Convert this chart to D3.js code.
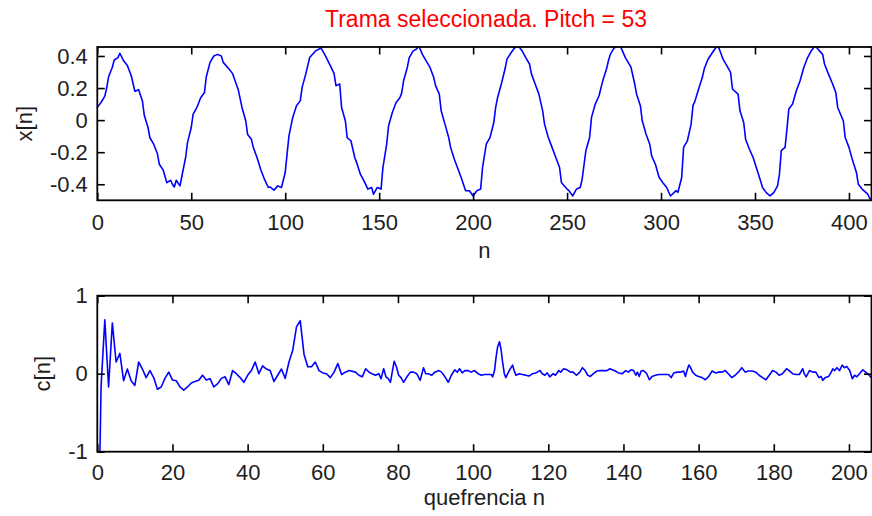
<!DOCTYPE html>
<html>
<head>
<meta charset="utf-8">
<script src="https://cdn.jsdelivr.net/npm/d3@7"></script>
<style>
    body { margin: 0; background: #fff; }
    svg { display: block; font-family: "Liberation Sans", Arial, sans-serif; }
    .tick text { font-size: 22px; fill: #1e1e1e; }
    .tick line { stroke: #000; stroke-width: 1.6; }
</style>
</head>
<body>
<div id="chart"></div>
<script>
// frame samples (sample index, amplitude)
var sigN = [0, 2, 4, 5, 6, 8, 9, 11, 12, 14, 16, 18, 20, 22, 24, 25, 27, 28, 30, 32, 33, 35, 37, 39, 40, 41, 42, 44, 45, 47, 48, 50,
    51, 53, 55, 57, 58, 60, 62, 64, 66, 67, 70, 72, 73, 75, 77, 79, 80, 82, 83, 85, 87, 89, 91, 92, 94, 96, 98, 100,
    101, 102, 104, 106, 108, 109, 111, 113, 116, 119, 121, 124, 126, 127, 129, 130, 132, 133, 135, 137, 138, 140, 142, 144, 146, 147, 149,
    151, 152, 154, 155, 157, 159, 161, 162, 163, 165, 166, 168, 170, 171, 173, 175, 177, 179, 180, 182, 183, 185, 187, 188, 190, 192, 194, 196, 198,
    200, 202, 204, 205, 207, 209, 211, 212, 213, 215, 217, 218, 220, 222, 224, 226, 228, 230, 231, 233, 235, 237, 238, 240, 242, 244, 246, 247,
    250, 251, 253, 255, 257, 258, 260, 262, 263, 265, 267, 269, 271, 272, 273, 275, 278, 279, 281, 284, 286, 287, 289, 290, 292, 294, 295, 297, 299,
    301, 303, 305, 308, 309, 311, 312, 314, 316, 317, 318, 320, 322, 323, 325, 328, 330, 331, 333, 335, 337, 338, 341, 342, 344, 345, 347, 349,
    351, 353, 354, 356, 358, 360, 362, 363, 364, 366, 367, 368, 370, 372, 374, 376, 378, 380, 382, 383, 386, 387, 389, 391, 393, 394, 397, 398,
    400, 402, 404, 405, 407, 410, 411, 412];
var sigX = [0.08, 0.11, 0.15, 0.20, 0.27, 0.33, 0.375, 0.39, 0.417, 0.37, 0.34, 0.28, 0.18, 0.19, 0.12, 0.03, -0.046, -0.11, -0.15, -0.21, -0.275, -0.31, -0.39, -0.375, -0.40, -0.417, -0.375, -0.41, -0.35, -0.233, -0.14, -0.046,
    0.038, 0.079, 0.14, 0.17, 0.27, 0.36, 0.40, 0.41, 0.40, 0.36, 0.32, 0.29, 0.256, 0.19, 0.079, -0.004, -0.09, -0.12, -0.17, -0.233, -0.31, -0.37, -0.42, -0.417, -0.437, -0.41, -0.42, -0.327,
    -0.21, -0.098, 0.017, 0.09, 0.12, 0.204, 0.29, 0.39, 0.43, 0.45, 0.41, 0.34, 0.29, 0.215, 0.225, 0.079, -0.004, -0.11, -0.13, -0.233, -0.265, -0.337, -0.38, -0.43, -0.42, -0.462, -0.42,
    -0.43, -0.296, -0.15, -0.035, 0.048, 0.11, 0.14, 0.17, 0.246, 0.33, 0.39, 0.43, 0.444, 0.465, 0.41, 0.37, 0.33, 0.267, 0.215, 0.162, 0.058, -0.025, -0.108, -0.17, -0.244, -0.306, -0.37, -0.44, -0.44,
    -0.473, -0.44, -0.43, -0.296, -0.15, -0.108, -0.015, 0.079, 0.14, 0.225, 0.32, 0.38, 0.417, 0.45, 0.465, 0.433, 0.39, 0.35, 0.29, 0.225, 0.162, 0.058, -0.025, -0.108, -0.17, -0.233, -0.296, -0.39,
    -0.43, -0.44, -0.473, -0.43, -0.42, -0.37, -0.19, -0.108, 0.017, 0.10, 0.152, 0.246, 0.32, 0.37, 0.41, 0.45, 0.465, 0.444, 0.39, 0.33, 0.225, 0.162, 0.09, -0.004, -0.087, -0.15, -0.223, -0.275, -0.358,
    -0.39, -0.42, -0.473, -0.44, -0.45, -0.358, -0.17, -0.13, -0.025, 0.09, 0.117, 0.194, 0.267, 0.32, 0.38, 0.433, 0.465, 0.444, 0.38, 0.34, 0.298, 0.194, 0.162, 0.058, -0.015, -0.119, -0.18, -0.233,
    -0.306, -0.38, -0.42, -0.452, -0.473, -0.452, -0.41, -0.337, -0.19, -0.17, -0.056, 0.069, 0.10, 0.183, 0.246, 0.33, 0.39, 0.433, 0.465, 0.45, 0.41, 0.35, 0.29, 0.235, 0.173, 0.079, -0.004, -0.108,
    -0.17, -0.254, -0.327, -0.40, -0.43, -0.462, -0.487, -0.50];

var cepN = [0, 1, 2, 3, 4, 5, 6, 7, 8, 9, 10, 11, 12, 13, 14, 15, 16, 17, 18, 19, 20, 21, 22, 23, 24, 25, 26, 27, 28, 29, 30,
    31, 32, 33, 34, 35, 36, 37, 38, 39, 40, 41, 42, 43, 44, 45, 46, 47, 48, 49, 50, 51, 52, 53, 54, 55, 56, 57, 58, 59, 60,
    61, 62, 63, 64, 65, 66, 67, 68.7, 69.6, 70.5, 71.4, 72.3, 73.1, 74.0, 74.9, 75.5, 76.2, 76.8, 77.4, 78.0, 78.4, 79.0, 79.6,
    80.2, 80.8, 81.5, 82.4, 83.3, 84.1, 85.0, 85.9, 86.8, 87.4, 88.1, 89.0, 89.8, 90.9, 91.6, 92.5, 93.4, 94.2, 95.1, 95.8, 96.4,
    97.1, 97.8, 98.6, 99.5, 100.4, 101.3, 102.2, 103.0, 103.9, 104.8, 105.2, 105.7, 106.1, 106.5, 107.0, 107.4, 107.9, 108.3,
    108.7, 109.2, 109.9, 110.5, 110.9, 111.4, 112.3, 113.1, 114.0, 114.9, 115.8, 116.7, 117.8, 118.4, 119.1, 119.7, 120.4,
    121.3, 121.9, 122.8, 123.3, 124.1, 125.0, 125.9, 126.6, 127.5, 128.4, 129.1, 129.8, 130.5, 131.2, 132.0, 132.9, 133.8,
    134.7, 135.6, 136.4, 137.8, 138.7, 139.7, 140.6, 141.3, 142.0, 142.7, 143.3, 143.7, 144.2, 144.7, 145.3, 145.8, 146.2,
    146.9, 147.6, 148.5, 149.4, 150.2, 151.1, 152.0, 152.7, 153.4, 154.3, 155.2, 156.0, 156.5, 156.9, 157.4, 157.8, 158.4,
    159.2, 160.0, 160.9, 161.8, 162.7, 163.6, 164.5, 165.4, 166.3, 167.1, 167.9, 168.8, 169.7, 170.6, 171.5, 172.4, 173.2,
    174.3, 175.2, 176.1, 177.0, 177.9, 178.8, 179.7, 180.6, 181.4, 182.3, 183.4, 184.1, 185.0, 185.9, 186.8, 187.7, 188.1,
    188.6, 189.5, 190.4, 191.2, 192.0, 192.6, 193.0, 193.7, 194.6, 195.3, 195.7, 196.2, 196.8, 197.5, 198.2, 198.8, 199.4,
    200.2, 200.9, 201.5, 202.1, 202.8, 203.7, 204.4, 205.0, 205.9];
var cepC = [-3, -0.17, 0.69, -0.17, 0.65, 0.15, 0.26, -0.09, 0.06, -0.09, -0.15, 0.15, 0.06, -0.05, 0.04, -0.05, -0.2, -0.17, -0.06, 0.02, -0.08, -0.09, -0.17, -0.21, -0.17, -0.12, -0.1, -0.085, -0.02, -0.08, -0.064,
    -0.17, -0.13, -0.06, -0.04, -0.14, 0.04, 0, -0.05, -0.11, -0.02, 0.04, 0.15, 0.0, 0.1, 0.06, 0.04, -0.1, -0.02, 0.06, -0.06, 0.15, 0.3, 0.6, 0.68, 0.25, 0.09, 0.09, 0.15, 0.04, 0.01,
    0, -0.05, 0.02, 0.13, -0.01, 0.02, 0.04, 0.02, -0.02, -0.04, 0.064, 0.02, 0, -0.02, 0, -0.064, 0.064, -0.04, -0.064, -0.11, 0, 0.16, 0.085,
    -0.02, -0.05, -0.11, -0.04, 0.02, 0.02, 0, -0.085, 0.077, 0, 0, -0.02, 0.02, 0.04, 0.02, -0.04, -0.11, -0.02, 0.05, 0.02, 0.064,
    0.01, 0.04, 0.04, 0.02, 0.04, 0, -0.02, -0.01, -0.01, -0.01, -0.04, 0.04, 0.21, 0.34, 0.41, 0.32, 0.13, 0,
    -0.05, 0, 0.064, 0.11, 0.04, -0.02, 0, -0.01, -0.02, -0.03, 0, 0.01, 0.04, 0, -0.02, 0.01, -0.04,
    0, -0.02, 0.04, 0.02, 0.064, 0.05, 0.02, 0.02, -0.02, 0.02, 0.077, 0.04, -0.02, -0.035, 0, 0.034, 0.04,
    0.04, 0.04, 0.064, 0.034, 0.01, 0, 0.04, 0.02, 0.05, 0.04, -0.02, 0.02, -0.035, 0.034, 0.04, 0.02, 0,
    -0.077, -0.035, -0.02, -0.01, -0.01, -0.01, -0.01, -0.05, 0.01, 0.02, 0.02, 0.034, -0.035, 0.04, 0.11, 0.085, 0.02,
    -0.02, -0.035, -0.05, -0.077, -0.035, 0.034, 0.01, 0.02, 0.02, 0.04, 0, -0.05, -0.02, 0.02, 0.077, 0.02, 0.034,
    0.034, 0.02, -0.02, -0.05, -0.077, -0.02, 0.04, 0.02, -0.02, 0, 0.064, 0.04, 0, -0.01, -0.01, 0.064, 0,
    -0.04, 0.04, 0.02, 0.02, -0.05, -0.035, -0.085, -0.05, -0.035, 0.02, 0.064, 0.04, 0.077, 0.04, 0.11, 0.077, 0.094,
    0.04, -0.064, -0.02, -0.04, 0, 0.05, 0.02, 0, -0.05];

// axis ticks
var sigTicksX = [0, 50, 100, 150, 200, 250, 300, 350, 400];
var sigTicksY = [-0.4, -0.2, 0, 0.2, 0.4];
var cepTicksX = [0, 20, 40, 60, 80, 100, 120, 140, 160, 180, 200];
var cepTicksY = [-1, 0, 1];

var titleText = 'Trama seleccionada. Pitch = 53';

var width = 872,
    height = 516,
    left = 97.3,
    right = 871.5;

var svg = d3.select('#chart').append('svg')
    .attr('width', width)
    .attr('height', height);

function fmt(d) { return d === 0 ? '0' : String(d); }

// one MATLAB style axes box
function panel(opts) {
    var x = d3.scaleLinear().domain(opts.xDomain).range([left, right]),
        y = d3.scaleLinear().domain(opts.yDomain).range([opts.bottom, opts.top]),
        g = svg.append('g'),
        tick = 7.5;

    var clipId = 'clip' + opts.id;
    svg.append('clipPath').attr('id', clipId)
        .append('rect')
        .attr('x', left)
        .attr('y', opts.top)
        .attr('width', right - left)
        .attr('height', opts.bottom - opts.top);

    var pts = opts.n.map(function(n, i) { return [n, opts.v[i]]; });

    g.append('path')
        .datum(pts)
        .attr('clip-path', 'url(#' + clipId + ')')
        .attr('fill', 'none')
        .attr('stroke', '#0000ff')
        .attr('stroke-width', 1.6)
        .attr('stroke-linejoin', 'round')
        .attr('d', d3.line()
            .x(function(d) { return x(d[0]); })
            .y(function(d) { return y(d[1]); }));

    g.append('g')
        .attr('transform', 'translate(0,' + opts.bottom + ')')
        .call(d3.axisBottom(x).tickValues(opts.xTicks).tickFormat(fmt)
            .tickSizeInner(-tick).tickSizeOuter(0).tickPadding(opts.xPad));

    g.append('g')
        .attr('transform', 'translate(0,' + opts.top + ')')
        .call(d3.axisTop(x).tickValues(opts.xTicks).tickFormat('')
            .tickSizeInner(-tick).tickSizeOuter(0));

    g.append('g')
        .attr('transform', 'translate(' + left + ',0)')
        .call(d3.axisLeft(y).tickValues(opts.yTicks).tickFormat(fmt)
            .tickSizeInner(-tick).tickSizeOuter(0).tickPadding(9.5));

    g.append('g')
        .attr('transform', 'translate(' + right + ',0)')
        .call(d3.axisRight(y).tickValues(opts.yTicks).tickFormat('')
            .tickSizeInner(-tick).tickSizeOuter(0));

    g.selectAll('.domain').remove();
    g.selectAll('.tick text').attr('font-family', null).attr('font-size', null);

    g.append('rect')
        .attr('x', left)
        .attr('y', opts.top)
        .attr('width', right - left)
        .attr('height', opts.bottom - opts.top)
        .attr('fill', 'none')
        .attr('stroke', '#000')
        .attr('stroke-width', 1.8);

    g.append('text')
        .attr('x', (left + right) / 2)
        .attr('y', opts.xLabelY)
        .attr('text-anchor', 'middle')
        .attr('font-size', 22)
        .attr('fill', '#1e1e1e')
        .text(opts.xLabel);

    g.append('text')
        .attr('transform', 'translate(' + opts.yLabelX + ',' + (opts.top + opts.bottom) / 2 + ') rotate(-90)')
        .attr('text-anchor', 'middle')
        .attr('font-size', 22)
        .attr('fill', '#1e1e1e')
        .text(opts.yLabel);
}

panel({
    id: 'sig', n: sigN, v: sigX,
    xDomain: [0, 412], yDomain: [-0.5, 0.456],
    top: 47, bottom: 200.3,
    xTicks: sigTicksX, yTicks: sigTicksY, xPad: 14,
    xLabel: 'n', xLabelY: 258, yLabel: 'x[n]', yLabelX: 32
});

panel({
    id: 'cep', n: cepN, v: cepC,
    xDomain: [0, 206], yDomain: [-1, 1],
    top: 295.7, bottom: 451.7,
    xTicks: cepTicksX, yTicks: cepTicksY, xPad: 12.7,
    xLabel: 'quefrencia n', xLabelY: 505, yLabel: 'c[n]', yLabelX: 50
});

svg.append('text')
    .attr('x', 486)
    .attr('y', 26.5)
    .attr('text-anchor', 'middle')
    .attr('font-size', 23)
    .attr('fill', '#ff0000')
    .text(titleText);
</script>
</body>
</html>
